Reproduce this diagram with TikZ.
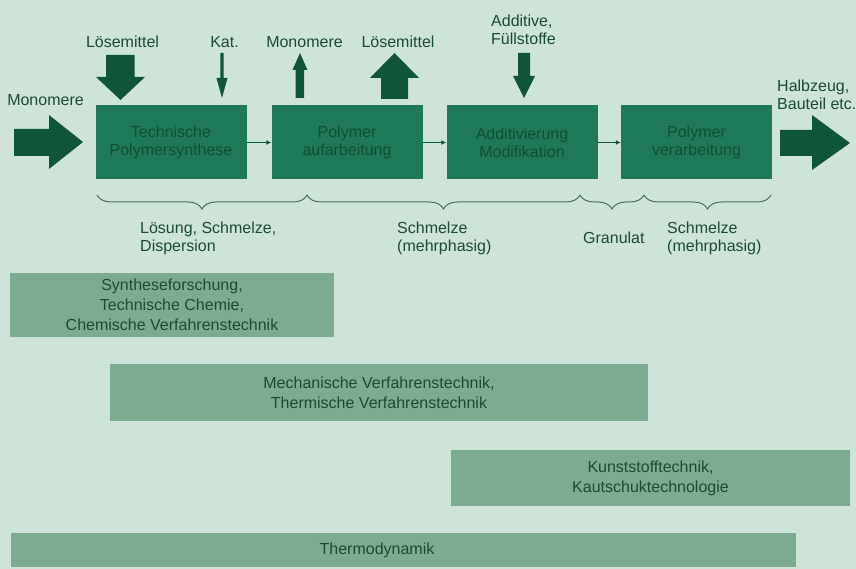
\documentclass[tikz,border=0pt]{standalone}
\usepackage{fontspec}
\setmainfont{Liberation Sans}
\usetikzlibrary{decorations.pathreplacing,arrows.meta}
\definecolor{bg}{HTML}{CFE4D8}
\definecolor{procfill}{HTML}{1F7858}
\definecolor{proctext}{HTML}{124E35}
\definecolor{arrowcol}{HTML}{0F5537}
\definecolor{fieldfill}{HTML}{7DAB92}
\definecolor{labeltext}{HTML}{1B4A35}
\definecolor{bracecol}{HTML}{4B6F60}
\begin{document}
\begin{tikzpicture}[x=1pt,y=-1pt,
  proc/.style={fill=procfill, text=proctext, align=center, inner sep=0pt,
    minimum width=151pt, minimum height=74pt, font=\fontsize{16}{18}\selectfont},
  field/.style={fill=fieldfill, text=labeltext, align=center, inner sep=0pt,
    font=\fontsize{16}{20}\selectfont},
  lbl/.style={text=labeltext, align=left, inner sep=0pt, font=\fontsize{16}{18}\selectfont},
  blk/.style={fill=arrowcol},
  conn/.style={draw=arrowcol, line width=1.3pt, -{Latex[length=5pt,width=5pt]}},
  bracedraw/.style={draw=bracecol, line width=1pt,
    decorate, decoration={brace, mirror, amplitude=14pt}}]
\fill[bg] (0,0) rectangle (856,569);
\useasboundingbox (0,0) rectangle (856,569);

% process boxes
\node[proc] (p1) at (171,142.5) {Technische\\Polymersynthese};
\node[proc] (p2) at (347,142.5) {Polymer\\aufarbeitung};
\node[proc] (p3) at (522,142.5) {Additivierung\\Modifikation};
\node[proc] (p4) at (696.5,142.5) {Polymer\\verarbeitung};

\draw[conn] (p1.east) -- (p2.west);
\draw[conn] (p2.east) -- (p3.west);
\draw[conn] (p3.east) -- (p4.west);

% block arrows
\fill[blk] (14,129) -- (49,129) -- (49,115) -- (83,142) -- (49,169) -- (49,156) -- (14,156) -- cycle;
\fill[blk] (106,55) -- (134.5,55) -- (134.5,77) -- (145,77) -- (120.5,100) -- (96,77) -- (106,77) -- cycle;
\fill[blk] (220.3,53) -- (223.7,53) -- (223.7,78) -- (227.5,78) -- (222,98) -- (216.5,78) -- (220.3,78) -- cycle;
\fill[blk] (295.5,98) -- (304,98) -- (304,70) -- (307.5,70) -- (300,53) -- (292.5,70) -- (295.5,70) -- cycle;
\fill[blk] (381,99) -- (408,99) -- (408,78) -- (419,78) -- (394.5,53) -- (370,78) -- (381,78) -- cycle;
\fill[blk] (518,53) -- (530,53) -- (530,76) -- (535,76) -- (524,98) -- (513,76) -- (518,76) -- cycle;
\fill[blk] (780,130) -- (812,130) -- (812,115) -- (850,143) -- (812,170) -- (812,156) -- (780,156) -- cycle;

% labels
\node[lbl] (monoL) at (45.5,100) {Monomere};
\node[lbl] (loes1) at (122.5,42) {Lösemittel};
\node[lbl] (kat) at (224.5,42) {Kat.};
\node[lbl] (mono2) at (304.5,42) {Monomere};
\node[lbl] (loes2) at (398,42) {Lösemittel};
\node[lbl, anchor=west] (addi) at (491,30) {Additive,\\Füllstoffe};
\node[lbl, anchor=west] (halb) at (777,95) {Halbzeug,\\Bauteil etc.};

% braces
\coordinate (b0) at (97,195);
\coordinate (b1) at (307,195);
\coordinate (b2) at (580,195);
\coordinate (b3) at (644,195);
\coordinate (b4) at (771,195);
\draw[bracedraw] (b0) -- (b1);
\draw[bracedraw] (b1) -- (b2);
\draw[bracedraw] (b2) -- (b3);
\draw[bracedraw] (b3) -- (b4);

\node[lbl, anchor=west] (loesung) at (140,238.5) {Lösung, Schmelze,\\Dispersion};
\node[lbl, anchor=west] (schm1) at (397,238.5) {Schmelze\\(mehrphasig)};
\node[lbl, anchor=west] (gran) at (583,238) {Granulat};
\node[lbl, anchor=west] (schm2) at (667,238.5) {Schmelze\\(mehrphasig)};

% discipline fields
\node[field, minimum width=324pt, minimum height=64pt] (fa) at (172,305)
  {Syntheseforschung,\\Technische Chemie,\\Chemische Verfahrenstechnik};
\node[field, minimum width=538pt, minimum height=57pt] (fb) at (379,392.5)
  {Mechanische Verfahrenstechnik,\\Thermische Verfahrenstechnik};
\node[field, minimum width=399pt, minimum height=56pt] (fc) at (650.5,478)
  {Kunststofftechnik,\\Kautschuktechnologie};
\node[field, minimum width=785pt, minimum height=34pt] (fd) at (403.5,550) {};
\node[lbl] (thermo) at (377,550) {Thermodynamik};
\end{tikzpicture}
\end{document}
